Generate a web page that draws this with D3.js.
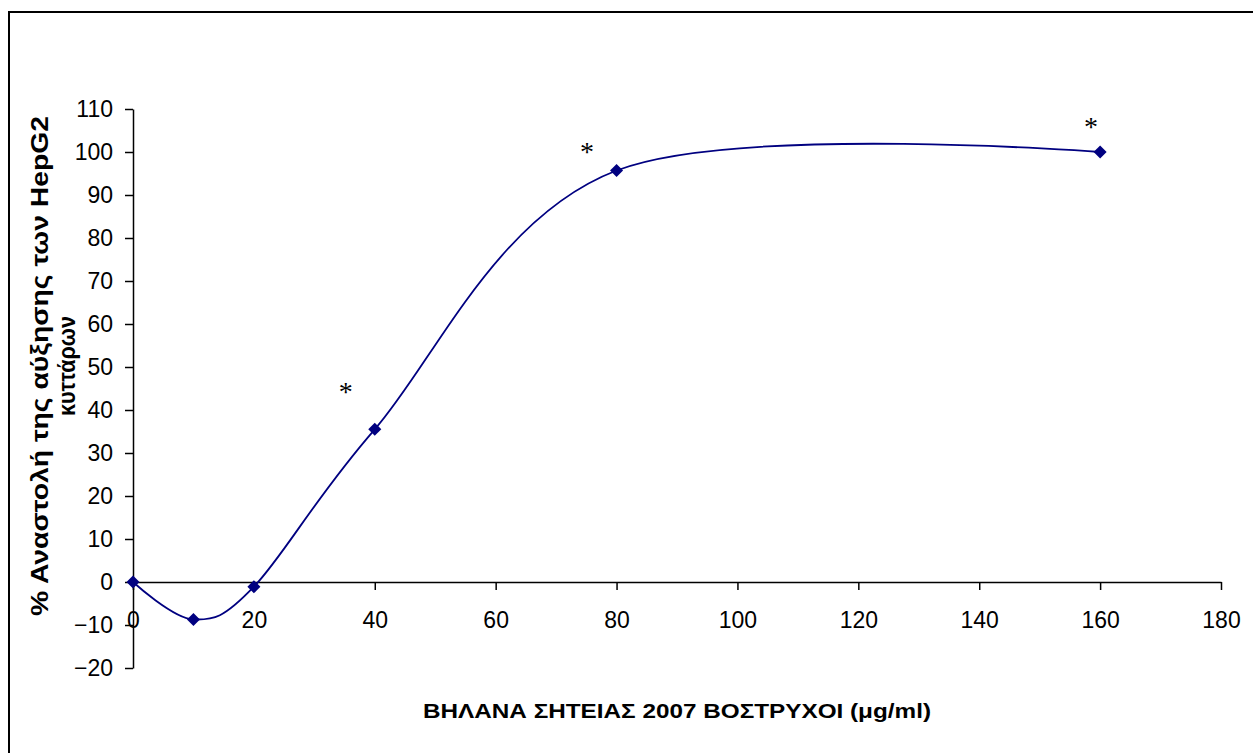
<!DOCTYPE html>
<html>
<head>
<meta charset="utf-8">
<script src="https://cdn.jsdelivr.net/npm/d3@7"></script>
<style>
  body { margin: 0; background: #fff; }
  svg { display: block; }
  .tick text { font-family: "Liberation Sans", Arial, sans-serif; font-size: 23px; fill: #000; }
  .axis path, .axis line { stroke: #000; stroke-width: 1.5px; }
  .title { font-family: "Liberation Sans", Arial, sans-serif; font-size: 21px; font-weight: bold; }
  .ytitle { font-size: 24px; }
</style>
</head>
<body>
<div id="chart"></div>
<script>
// concentration (μg/ml) and % inhibition of HepG2 growth
const doses = [0, 10, 20, 40, 80, 160];
const inhibition = [0, -8.7, -1.1, 35.5, 95.7, 100];

// significance marks (*) placed in data units
const starX = [35.2, 75.1, 158.5];
const starY = [45.4, 101.2, 106.9];

const xTicks = [0, 20, 40, 60, 80, 100, 120, 140, 160, 180];
const yTicks = [-20, -10, 0, 10, 20, 30, 40, 50, 60, 70, 80, 90, 100, 110];

const xTitle = 'ΒΗΛΑΝΑ ΣΗΤΕΙΑΣ 2007 ΒΟΣΤΡΥΧΟΙ (μg/ml)';
const yTitle = ['% Αναστολή της αύξησης των HepG2', 'κυττάρων'];

const width = 1253, height = 753;
const navy = '#000080';

const svg = d3.select('#chart').append('svg')
  .attr('width', width)
  .attr('height', height);

svg.append('rect')
  .attr('width', width).attr('height', height)
  .attr('fill', '#fff');

// outer chart frame (runs off the right and bottom edges)
svg.append('rect')
  .attr('x', 9).attr('y', 12)
  .attr('width', 1270).attr('height', 770)
  .attr('fill', 'none')
  .attr('stroke', '#000')
  .attr('stroke-width', 2);

let x = d3.scaleLinear().domain([0, 180]).range([133, 1221]);
let y = d3.scaleLinear().domain([-20, 110]).range([668, 109]);

svg.append('g')
  .attr('class', 'axis')
  .attr('transform', 'translate(' + x(0) + ',0)')
  .call(d3.axisLeft(y).tickValues(yTicks).tickSize(8).tickSizeOuter(0).tickPadding(12));

svg.append('g')
  .attr('class', 'axis')
  .attr('transform', 'translate(0,' + y(0) + ')')
  .call(d3.axisBottom(x).tickValues(xTicks).tickSize(8).tickSizeOuter(0).tickPadding(22));

let pts = doses.map((d, i) => [d, inhibition[i]]);

let line = d3.line()
  .x(d => x(d[0]))
  .y(d => y(d[1]))
  .curve(d3.curveCardinal.tension(0));

svg.append('path')
  .datum(pts)
  .attr('d', line)
  .attr('fill', 'none')
  .attr('stroke', navy)
  .attr('stroke-width', 1.8);

svg.selectAll('.marker')
  .data(pts)
  .enter().append('path')
  .attr('class', 'marker')
  .attr('d', d3.symbol().type(d3.symbolSquare).size(85))
  .attr('transform', d => 'translate(' + x(d[0]) + ',' + y(d[1]) + ') rotate(45)')
  .attr('fill', navy);

svg.selectAll('.star')
  .data(starX)
  .enter().append('text')
  .attr('class', 'star')
  .attr('x', d => x(d))
  .attr('y', (d, i) => y(starY[i]) + 14)
  .attr('text-anchor', 'middle')
  .style('font-family', '"Liberation Serif", "Times New Roman", serif')
  .style('font-size', '28px')
  .text('*');

svg.append('text')
  .attr('class', 'title')
  .attr('x', 677)
  .attr('y', 718)
  .attr('text-anchor', 'middle')
  .attr('textLength', 508)
  .attr('lengthAdjust', 'spacingAndGlyphs')
  .text(xTitle);

// y title: two lines, each stretched to the reference length
const yLens = [500, 100];
const yBase = [48, 75];

svg.selectAll('.ytitle')
  .data(yTitle)
  .enter().append('text')
  .attr('class', 'title ytitle')
  .attr('transform', (d, i) => 'translate(' + yBase[i] + ',366) rotate(-90)')
  .attr('text-anchor', 'middle')
  .attr('textLength', (d, i) => yLens[i])
  .attr('lengthAdjust', 'spacingAndGlyphs')
  .text(d => d);
</script>
</body>
</html>
